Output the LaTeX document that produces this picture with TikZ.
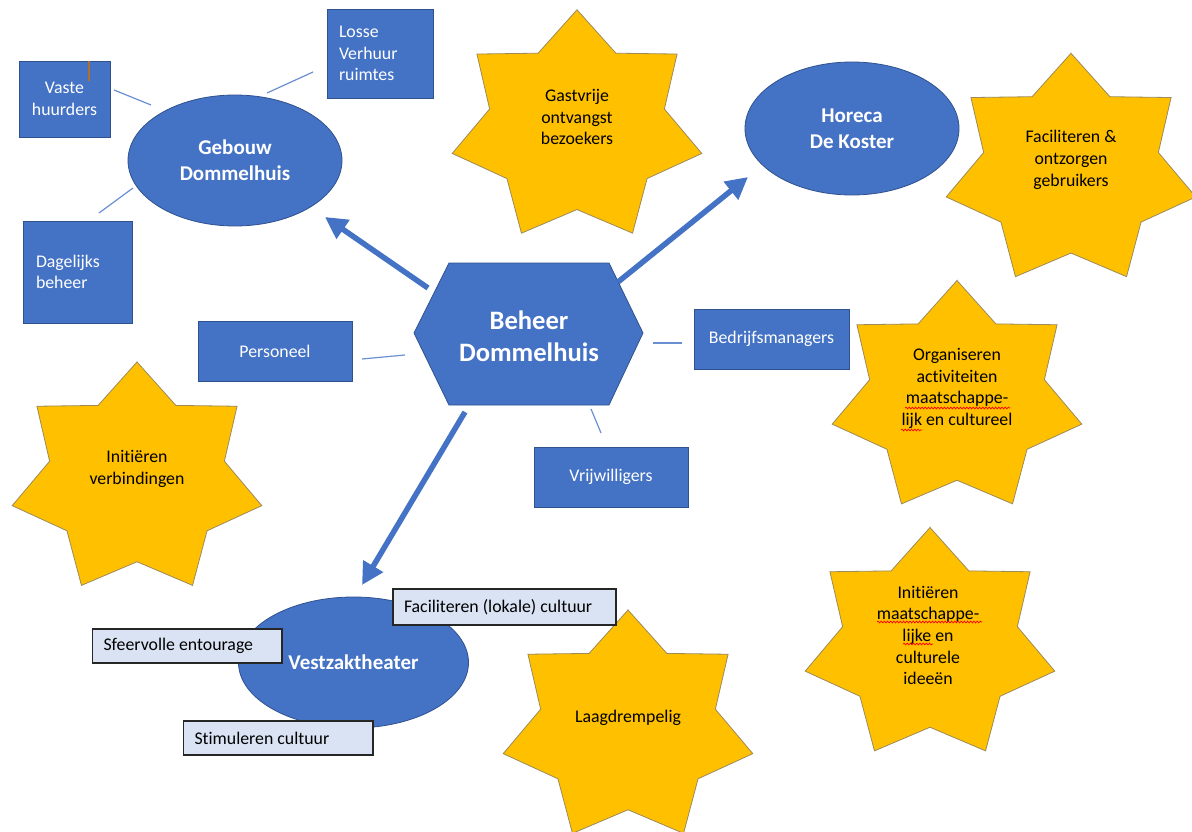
\documentclass[tikz,border=0pt]{standalone}
\usepackage{fontspec}
\setmainfont{Carlito}[Ligatures={NoCommon}]
\usetikzlibrary{shapes.geometric,arrows.meta,decorations.pathmorphing}
\definecolor{obl}{HTML}{4472C4}
\definecolor{obd}{HTML}{2F528F}
\definecolor{ogold}{HTML}{FFC000}
\definecolor{ogoldd}{HTML}{9C8A5A}
\definecolor{olight}{HTML}{DAE3F3}
\definecolor{ofeed}{HTML}{6A8FD2}
\definecolor{otick}{HTML}{B0702A}
\newcommand\nfont{\fontsize{17.8}{21.7}\selectfont}
\newcommand\bfontm{\fontsize{21}{25.6}\selectfont\bfseries}
\newcommand\bfontl{\fontsize{26.6}{32.2}\selectfont\bfseries}
\newcommand\gstar[2]{%
  \path[starfill] ({#1},{#2-117.5})
    \foreach \k in {0,...,6}{
      -- ({#1+89.6*cos(115.714+\k*51.4286)},{#2-82.25*sin(115.714+\k*51.4286)})
      -- ({#1+128*cos(141.4286+\k*51.4286)},{#2-117.5*sin(141.4286+\k*51.4286)})
    } -- cycle;}
\tikzset{
  bluebox/.style={draw=obd, fill=obl, line width=0.8pt, text=white, font=\nfont, inner sep=0pt},
  bluell/.style={ellipse, draw=obd, fill=obl, line width=0.8pt, text=white, inner sep=0pt, font=\bfontm, align=flush center},
  lightbox/.style={draw=black!85, fill=olight, line width=1.1pt, font=\nfont, text=black, align=flush left, inner xsep=11pt, inner ysep=0pt},
  startext/.style={font=\nfont, text=black, align=flush center, inner sep=0pt},
  starfill/.style={draw=ogoldd, fill=ogold, line width=0.8pt, line join=miter},
  feeder/.style={draw=ofeed, line width=1.2pt},
  bigarrow/.style={draw=obl, line width=5.5pt, -{Triangle[length=22pt,width=22pt]}},
  spell/.style={draw=red, line width=0.7pt, decorate, decoration={snake, amplitude=0.9pt, segment length=3.2pt}},
}
\begin{document}
\begin{tikzpicture}[x=1pt, y=-1pt]
\useasboundingbox (0,0) rectangle (1192,832);
\fill[white] (0,0) rectangle (1192,832);

% stars
\gstar{577}{127.3}
\gstar{1071}{170.8}
\gstar{957}{398}
\gstar{930}{645}
\gstar{137}{479.5}
\gstar{628}{727.5}
\node[startext] (s1) at (577,117) {Gastvrije\\ontvangst\\bezoekers};
\node[startext] (s2) at (1071,160) {Faciliteren \&\\ontzorgen\\gebruikers};
\node[startext] (s3) at (957,388.5) {Organiseren\\activiteiten\\maatschappe-\\lijk en cultureel};
\node[startext] (s4) at (928,635.5) {Initiëren\\maatschappe-\\lijke en\\culturele\\ideeën};
\node[startext] (s5) at (137,469) {Initiëren\\verbindingen};
\node[startext] (s6) at (628,718) {Laagdrempelig};
\draw[spell] (905,408) -- (1010,408);
\draw[spell] (901,430) -- (922,430);
\draw[spell] (877,622) -- (982,622);
\draw[spell] (903,644) -- (933,644);

% central hexagon
\filldraw[fill=obl, draw=obd, line width=0.8pt] (449,263) -- (609,263) -- (643,333) -- (609,405) -- (449,405) -- (414,333) -- cycle;
\node[font=\bfontl, text=white, align=flush center, inner sep=0pt] (beheer) at (529,336) {Beheer\\Dommelhuis};

% ellipses
\node[bluell, minimum width=214pt, minimum height=131pt] (gebouw) at (235,160.5) {Gebouw\\Dommelhuis};
\node[bluell, minimum width=214pt, minimum height=133pt] (horeca) at (852,128.5) {Horeca\\De Koster};
\node[bluell, minimum width=230pt, minimum height=131pt] (vestzak) at (353.5,662.5) {Vestzaktheater};

% blue boxes
\node[bluebox, minimum width=91pt, minimum height=76pt, align=flush center] (vaste) at (64.5,99) {Vaste\\huurders};
\node[bluebox, minimum width=106pt, minimum height=89pt, text width=82pt, align=flush left] (losse) at (380,53.5) {Losse\\Verhuur\\ruimtes};
\node[bluebox, minimum width=109pt, minimum height=102pt, text width=83pt, align=flush left] (dag) at (77.5,272) {Dagelijks\\beheer};
\node[bluebox, minimum width=154pt, minimum height=60pt] (pers) at (275,351) {Personeel};
\node[bluebox, minimum width=155pt, minimum height=60pt] (bedr) at (771.5,339) {Bedrijfsmanagers};
\node[bluebox, minimum width=154pt, minimum height=60pt] (vrij) at (611,477) {Vrijwilligers};
\draw[otick, line width=1.2pt] (89,61.5) -- (89,81);

% thin feeder lines
\coordinate (fv1) at (114,90);   \coordinate (fv2) at (151,105);
\coordinate (fl1) at (267,93);   \coordinate (fl2) at (313,72);
\coordinate (fd1) at (99,213);   \coordinate (fd2) at (133,188);
\coordinate (fp1) at (362,359);  \coordinate (fp2) at (405,355);
\coordinate (fb1) at (653,343);  \coordinate (fb2) at (682,343);
\coordinate (fw1) at (591,409);  \coordinate (fw2) at (601,433);
\draw[feeder] (fv1) -- (fv2);
\draw[feeder] (fl1) -- (fl2);
\draw[feeder] (fd1) -- (fd2);
\draw[feeder] (fp1) -- (fp2);
\draw[feeder] (fb1) -- (fb2);
\draw[feeder] (fw1) -- (fw2);

% thick arrows
\coordinate (a1s) at (428,288);  \coordinate (a1e) at (325,217);
\coordinate (a2s) at (618,282);  \coordinate (a2e) at (748,177);
\coordinate (a3s) at (465,412);  \coordinate (a3e) at (362,585);
\draw[bigarrow] (a1s) -- (a1e);
\draw[bigarrow] (a2s) -- (a2e);
\draw[bigarrow] (a3s) -- (a3e);

% light boxes
\node[lightbox, text width=201pt, minimum height=36pt] (facil) at (504.5,607) {Faciliteren (lokale) cultuur};
\node[lightbox, text width=167.5pt, minimum height=34pt] (sfeer) at (187.25,646) {Sfeervolle entourage};
\node[lightbox, text width=167.5pt, minimum height=34pt] (stim) at (278.25,738) {Stimuleren cultuur};
\end{tikzpicture}
\end{document}
